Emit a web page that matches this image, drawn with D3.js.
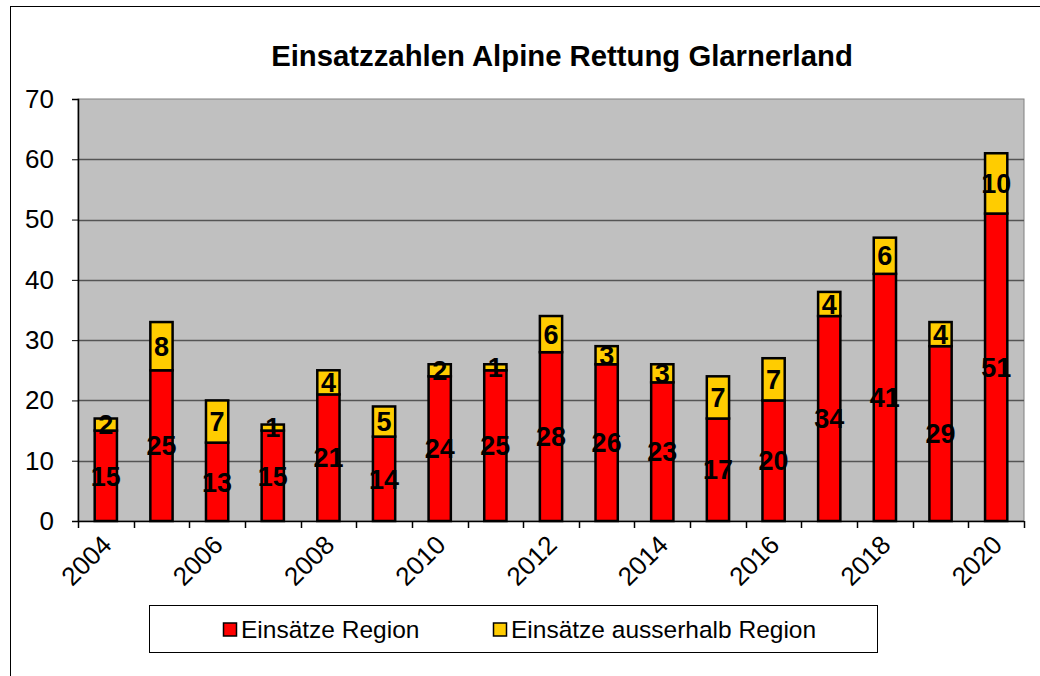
<!DOCTYPE html>
<html>
<head>
<meta charset="utf-8">
<script src="https://cdn.jsdelivr.net/npm/d3@7"></script>
<style>
  body { margin: 0; background: #fff; }
  text { font-family: "Liberation Sans", Arial, sans-serif; }
</style>
</head>
<body>
<script>
var years = [2004, 2005, 2006, 2007, 2008, 2009, 2010, 2011, 2012, 2013, 2014, 2015, 2016, 2017, 2018, 2019, 2020];
var region = [15, 25, 13, 15, 21, 14, 24, 25, 28, 26, 23, 17, 20, 34, 41, 29, 51];
var outside = [2, 8, 7, 1, 4, 5, 2, 1, 6, 3, 3, 7, 7, 4, 6, 4, 10];
var yTicks = [0, 10, 20, 30, 40, 50, 60, 70];
var seriesNames = ["Einsätze Region", "Einsätze ausserhalb Region"];
var colors = ["#ff0000", "#ffcc00"];

var width = 1040, height = 676;
var plot = {left: 78, right: 1024, top: 99, bottom: 521};

var svg = d3.select("body").append("svg")
    .attr("width", width)
    .attr("height", height);

// chart frame
svg.append("rect")
    .attr("x", 10.5).attr("y", 6.5)
    .attr("width", 1040).attr("height", 700)
    .attr("fill", "#fff")
    .attr("stroke", "#000");

svg.append("text")
    .attr("x", 562).attr("y", 66)
    .attr("text-anchor", "middle")
    .style("font-size", "29.3px")
    .style("font-weight", "bold")
    .text("Einsatzzahlen Alpine Rettung Glarnerland");

var x = d3.scaleBand()
    .domain(years)
    .range([plot.left, plot.right])
    .paddingInner(0.6)
    .paddingOuter(0.3);

var y = d3.scaleLinear()
    .domain([0, 70])
    .range([plot.bottom, plot.top]);

svg.append("rect")
    .attr("x", plot.left).attr("y", plot.top)
    .attr("width", plot.right - plot.left)
    .attr("height", plot.bottom - plot.top)
    .attr("fill", "#c0c0c0")
    .attr("stroke", "#808080");

// gridlines
svg.append("g").selectAll("line")
    .data(yTicks.slice(1, -1))
  .enter().append("line")
    .attr("x1", plot.left).attr("x2", plot.right)
    .attr("y1", function(d) { return Math.round(y(d)) + 0.5; })
    .attr("y2", function(d) { return Math.round(y(d)) + 0.5; })
    .attr("stroke", "#555")
    .attr("stroke-width", 1.5);

// y axis
var yAxis = svg.append("g")
    .attr("transform", "translate(" + plot.left + ",0)")
    .call(d3.axisLeft(y).tickValues(yTicks).tickSize(6).tickPadding(18));
yAxis.select(".domain").attr("stroke", "#000").attr("stroke-width", 1.5);
yAxis.selectAll(".tick line").attr("stroke", "#000");
yAxis.selectAll("text").style("font-size", "26px").attr("fill", "#000")
    .style("font-family", "'Liberation Sans', Arial, sans-serif");

// x axis: ticks at category boundaries
var step = x.step();
var boundaries = d3.range(years.length + 1).map(function(i) { return plot.left + i * step; });
svg.append("line")
    .attr("x1", plot.left).attr("x2", plot.right)
    .attr("y1", plot.bottom + 0.5).attr("y2", plot.bottom + 0.5)
    .attr("stroke", "#000").attr("stroke-width", 1.5);
svg.append("g").selectAll("line")
    .data(boundaries)
  .enter().append("line")
    .attr("x1", function(d) { return Math.round(d) + 0.5; })
    .attr("x2", function(d) { return Math.round(d) + 0.5; })
    .attr("y1", plot.bottom).attr("y2", plot.bottom + 7)
    .attr("stroke", "#000").attr("stroke-width", 1.5);

svg.append("g").selectAll("text")
    .data(years.filter(function(d, i) { return i % 2 === 0; }))
  .enter().append("text")
    .attr("transform", function(d) {
      return "translate(" + (x(d) + x.bandwidth() / 2 + 1) + "," + (plot.bottom + 19) + ") rotate(-45)";
    })
    .attr("text-anchor", "end")
    .attr("dy", "0.35em")
    .style("font-size", "26px")
    .text(function(d) { return d; });

// stacked bars
var rows = years.map(function(yr, i) { return {year: yr, region: region[i], outside: outside[i]}; });
var stack = d3.stack().keys(["region", "outside"])(rows);

var layers = svg.append("g").selectAll("g")
    .data(stack)
  .enter().append("g")
    .attr("fill", function(d, i) { return colors[i]; });

layers.selectAll("rect")
    .data(function(d) { return d; })
  .enter().append("rect")
    .attr("x", function(d) { return x(d.data.year); })
    .attr("y", function(d) { return y(d[1]); })
    .attr("width", x.bandwidth())
    .attr("height", function(d) { return y(d[0]) - y(d[1]); })
    .attr("stroke", "#000")
    .attr("stroke-width", 2.5);

layers.selectAll("text")
    .data(function(d) { return d; })
  .enter().append("text")
    .attr("x", function(d) { return x(d.data.year) + x.bandwidth() / 2; })
    .attr("y", function(d) { return y((d[0] + d[1]) / 2); })
    .attr("dy", "0.36em")
    .attr("text-anchor", "middle")
    .attr("fill", "#000")
    .style("font-size", "27px")
    .style("font-weight", "bold")
    .text(function(d) { return d[1] - d[0]; });

// legend
var legend = svg.append("g");
legend.append("rect")
    .attr("x", 149.5).attr("y", 605.5)
    .attr("width", 728).attr("height", 47)
    .attr("fill", "#fff")
    .attr("stroke", "#000");

var legendX = [223, 493];
var items = legend.selectAll("g.item")
    .data(seriesNames)
  .enter().append("g")
    .attr("class", "item")
    .attr("transform", function(d, i) { return "translate(" + legendX[i] + ",629.5)"; });
items.append("rect")
    .attr("x", 0.5).attr("y", -6.5)
    .attr("width", 13).attr("height", 13)
    .attr("fill", function(d, i) { return colors[i]; })
    .attr("stroke", "#000")
    .attr("stroke-width", 1.5);
items.append("text")
    .attr("x", 18)
    .attr("dy", "0.36em")
    .style("font-size", "24.5px")
    .text(function(d) { return d; });
</script>
</body>
</html>
